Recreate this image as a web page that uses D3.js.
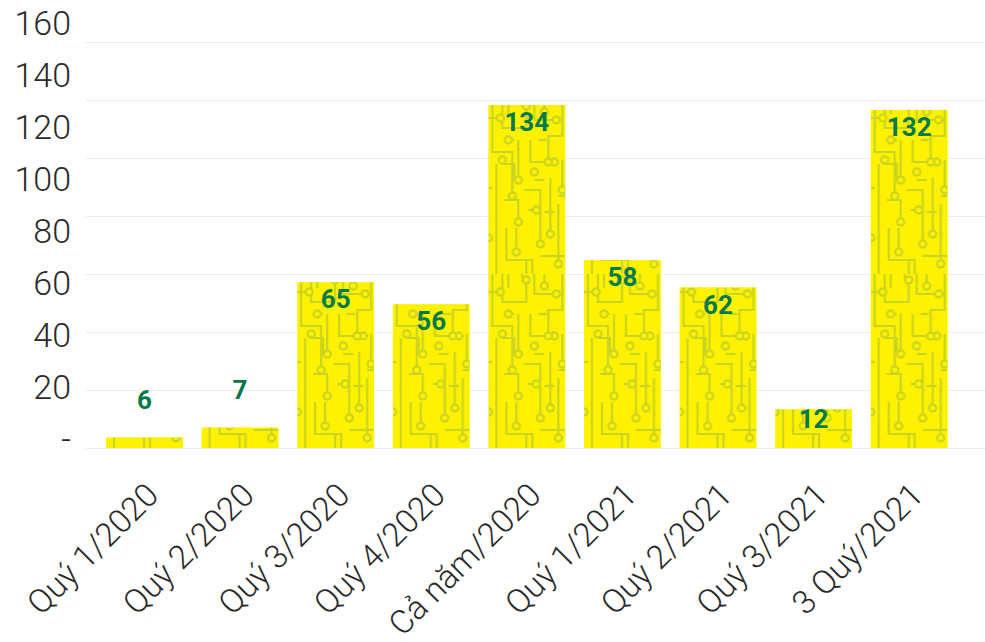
<!DOCTYPE html>
<html>
<head>
<meta charset="utf-8">
<script src="https://cdn.jsdelivr.net/npm/d3@7/dist/d3.min.js"></script>
<style>
  html, body { margin: 0; padding: 0; background: #ffffff; }
  svg { display: block; }
</style>
</head>
<body>
<svg id="chart" width="985" height="642"></svg>
<script>
// ---- data ----
const categories = ["Quý 1/2020", "Quý 2/2020", "Quý 3/2020", "Quý 4/2020", "Cả năm/2020",
                    "Quý 1/2021", "Quý 2/2021", "Quý 3/2021", "3 Quý/2021"];
// bar heights as drawn in the picture
const barValues = [3.7, 7.1, 57.2, 49.6, 118.3, 64.8, 55.4, 13.4, 116.6];
// value labels printed on the bars
const dataLabels = ["6", "7", "65", "56", "134", "58", "62", "12", "132"];
// y-axis tick labels
const yTicks = [0, 20, 40, 60, 80, 100, 120, 140, 160];

// ---- layout ----
const W = 985, H = 642;
const svg = d3.select("#chart");
const lightFont = "'Roboto Light', 'Roboto', sans-serif";

const x = d3.scaleBand().domain(categories).range([96.7, 957]).paddingInner(0.195).paddingOuter(0.0975);
const y = d3.scaleLinear().domain([0, 160]).range([448, 448 - 160 * 2.9]);
// tick labels in the picture sit on their own spacing
const yLab = d3.scaleLinear().domain([0, 160]).range([438, 22]);

const defs = svg.append("defs");

// circuit-board pattern (tile anchored on bar's left edge and baseline)
const tileW = x.step(), tileH = 174;
const pat = defs.append("pattern")
  .attr("id", "circuit")
  .attr("patternUnits", "userSpaceOnUse")
  .attr("x", x(categories[0]))
  .attr("y", y(0) - tileH * 3)
  .attr("width", tileW)
  .attr("height", tileH);
pat.append("rect").attr("width", tileW).attr("height", tileH).attr("fill", "#fff200");
const tc = "#cbd41f";
const g = pat.append("g").attr("fill", "none").attr("stroke", tc).attr("stroke-width", 2.2);
const paths = [
  "M4,0 V52 H24 V92",
  "M-2,18 H12",
  "M14,0 V28 H38 V10",
  "M46,0 V20 H68",
  "M56,0 V8",
  "M74,0 V36 H60 V58",
  "M30,40 V76",
  "M42,40 V62 H66",
  "M8,64 V174",
  "M16,100 H30 V118",
  "M36,90 H52 V140",
  "M62,78 V130",
  "M70,96 H77",
  "M70,104 V160",
  "M18,128 V160 H44 V174",
  "M0,138 H4",
  "M28,128 V148",
  "M52,156 H77",
  "M38,174 V160",
  "M46,80 H56",
  "M20,0 V14",
  "M20,40 H26",
  "M14,64 H26 V80",
  "M40,110 H48",
  "M56,112 H66",
  "M0,88 H4",
  "M74,60 V86",
  "M50,40 H58",
  "M34,0 V4"
];
paths.forEach(p => g.append("path").attr("d", p));
const circles = [[24,96],[38,6],[68,20],[30,80],[66,62],[60,62],[52,144],[30,122],[70,164],[28,152],[12,18],[56,12],[46,72],[62,134],[0,138],[20,40],[14,60],[74,90],[48,110]];
circles.forEach(c => g.append("circle").attr("cx", c[0]).attr("cy", c[1]).attr("r", 3.6).attr("fill", "#fff200"));

// ---- gridlines ----
svg.append("g").selectAll("line")
  .data(y.ticks(8).filter(v => v <= 140))
  .join("line")
  .attr("x1", 86).attr("x2", W)
  .attr("y1", d => Math.round(y(d)) + 0.5).attr("y2", d => Math.round(y(d)) + 0.5)
  .attr("stroke", "#ececec").attr("stroke-width", 1);

function lightText(sel) {
  sel.attr("font-family", lightFont).attr("font-weight", 300).attr("fill", "#2b2b2b");
}

// ---- y axis labels ----
const yAxis = d3.axisLeft(yLab).tickValues(yTicks).tickSize(0).tickPadding(0)
  .tickFormat(d => d === 0 ? "-" : d);
const ya = svg.append("g").attr("transform", "translate(71,0)").call(yAxis);
ya.select(".domain").remove();
ya.selectAll("text").attr("font-size", 34).attr("dy", "0.355em").call(lightText);

// ---- bars ----
svg.append("g").selectAll("rect")
  .data(barValues)
  .join("rect")
  .attr("x", (d, i) => x(categories[i]))
  .attr("y", d => y(d))
  .attr("width", x.bandwidth())
  .attr("height", d => y(0) - y(d))
  .attr("fill", "url(#circuit)");

// ---- value labels ----
svg.append("g").selectAll("text")
  .data(barValues)
  .join("text")
  .attr("x", (d, i) => x(categories[i]) + x.bandwidth() / 2)
  .attr("y", d => {
    const h = y(0) - y(d);
    if (h > 60) return y(d) + 17;
    if (h > 30) return y(d) + 10;
    return y(d) - 38;
  })
  .attr("dy", "0.355em")
  .attr("text-anchor", "middle")
  .attr("font-family", "Roboto").attr("font-weight", 700).attr("font-size", 26)
  .attr("fill", "#007a4a")
  .text((d, i) => dataLabels[i]);

// ---- x axis labels ----
svg.append("g").selectAll("text")
  .data(categories)
  .join("text")
  .attr("transform", d => `translate(${x(d) + x.bandwidth() / 2 + 16},497) rotate(-45)`)
  .attr("text-anchor", "end")
  .attr("font-size", 33)
  .call(lightText)
  .text(d => d);
</script>
</body>
</html>
